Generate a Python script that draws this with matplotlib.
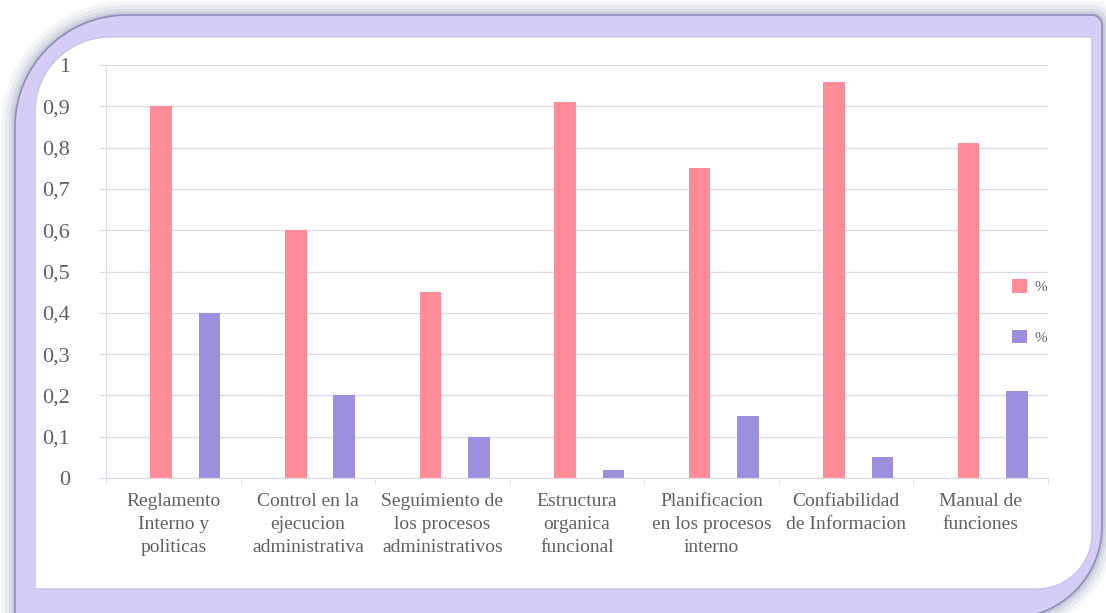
import matplotlib
matplotlib.use("Agg")
import matplotlib.pyplot as plt
import numpy as np
from matplotlib.path import Path
from matplotlib.patches import PathPatch, Patch

# Data
categories = [
    "Reglamento\nInterno y\npoliticas",
    "Control en la\nejecucion\nadministrativa",
    "Seguimiento de\nlos procesos\nadministrativos",
    "Estructura\norganica\nfuncional",
    "Planificacion\nen los procesos\ninterno",
    "Confiabilidad\nde Informacion",
    "Manual de\nfunciones",
]
serie_a = [0.90, 0.60, 0.45, 0.91, 0.75, 0.96, 0.81]
serie_b = [0.40, 0.20, 0.10, 0.02, 0.15, 0.05, 0.21]
series_labels = ["%", "%"]
y_ticks = [0, 0.1, 0.2, 0.3, 0.4, 0.5, 0.6, 0.7, 0.8, 0.9, 1]
y_ticklabels = ["0", "0,1", "0,2", "0,3", "0,4", "0,5", "0,6", "0,7", "0,8", "0,9", "1"]

PINK = "#ff8c98"
PURPLE = "#9c90de"
LAVENDER = "#d6cdf6"
TEXT = "#606060"
GRID = "#dcdbe8"

W, H = 1106, 613
fig = plt.figure(figsize=(W / 100, H / 100), dpi=100)
fig.patch.set_facecolor("white")


def rounded_rect(x0, y0, x1, y1, r_tl, r_tr, r_br, r_bl):
    """Closed path of a rectangle (y grows downward) with per-corner radii."""
    k = 0.5523
    verts, codes = [], []

    def move(p):
        verts.append(p); codes.append(Path.MOVETO)

    def line(p):
        verts.append(p); codes.append(Path.LINETO)

    def arc(p_start, corner, p_end):
        c1 = (p_start[0] + k * (corner[0] - p_start[0]), p_start[1] + k * (corner[1] - p_start[1]))
        c2 = (p_end[0] + k * (corner[0] - p_end[0]), p_end[1] + k * (corner[1] - p_end[1]))
        verts.extend([c1, c2, p_end]); codes.extend([Path.CURVE4] * 3)

    move((x0 + r_tl, y0))
    line((x1 - r_tr, y0))
    if r_tr:
        arc((x1 - r_tr, y0), (x1, y0), (x1, y0 + r_tr))
    line((x1, y1 - r_br))
    if r_br:
        arc((x1, y1 - r_br), (x1, y1), (x1 - r_br, y1))
    line((x0 + r_bl, y1))
    if r_bl:
        arc((x0 + r_bl, y1), (x0, y1), (x0, y1 - r_bl))
    line((x0, y0 + r_tl))
    if r_tl:
        arc((x0, y0 + r_tl), (x0, y0), (x0 + r_tl, y0))
    verts.append((x0 + r_tl, y0)); codes.append(Path.CLOSEPOLY)
    return Path(verts, codes)


# Decorative frame drawn in pixel coordinates
bg = fig.add_axes([0, 0, 1, 1], zorder=0)
bg.set_xlim(0, W)
bg.set_ylim(H, 0)
bg.axis("off")

# soft shadow around the frame
for grow, alpha in [(14, 0.10), (10, 0.14), (6, 0.20), (3, 0.28)]:
    bg.add_patch(PathPatch(
        rounded_rect(15 - grow, 15 - grow, 1102 + grow, 618 + grow,
                     112 + grow, 10 + grow, 92 + grow, 0),
        facecolor="#9aa3bd", edgecolor="none", alpha=alpha))
bg.add_patch(PathPatch(rounded_rect(15, 15, 1102, 618, 112, 10, 92, 0),
                       facecolor=LAVENDER, edgecolor="#8f8cb8", linewidth=1.2))
bg.add_patch(PathPatch(rounded_rect(35, 37, 1092, 589, 75, 0, 55, 0),
                       facecolor="white", edgecolor="#c9c2ea", linewidth=1.0))

# Chart
ax = fig.add_axes([106 / W, 1 - 478 / H, (1048 - 106) / W, (478 - 65) / H], zorder=1)
ax.set_facecolor("none")

x = np.arange(len(categories))
bar_w = 0.16
ax.bar(x - 0.09, serie_a, width=bar_w, color=PINK, label=series_labels[0], zorder=2)
ax.bar(x + 0.27, serie_b, width=bar_w, color=PURPLE, label=series_labels[1], zorder=2)

ax.set_xlim(-0.5, len(categories) - 0.5)
ax.set_ylim(0, 1)
ax.set_yticks(y_ticks)
ax.set_yticklabels(y_ticklabels, family="Liberation Serif", fontsize=16, color=TEXT)
ax.yaxis.grid(True, color=GRID, linewidth=1.0, zorder=0)
ax.set_axisbelow(True)

ax.set_xticks(x)
ax.set_xticklabels(categories, family="Liberation Serif", fontsize=14, color=TEXT,
                   linespacing=1.45)
ax.set_xticks(np.arange(len(categories) + 1) - 0.5, minor=True)
ax.tick_params(axis="x", which="major", length=0, pad=11)
ax.tick_params(axis="x", which="minor", length=5, color=GRID, direction="out")
ax.tick_params(axis="y", length=5, color=GRID, pad=21)

for side in ["top", "right"]:
    ax.spines[side].set_visible(False)
ax.spines["left"].set_color(GRID)
ax.spines["bottom"].set_color(GRID)

handles = [Patch(facecolor=PINK, label=series_labels[0]),
           Patch(facecolor=PURPLE, label=series_labels[1])]
leg = ax.legend(handles=handles, loc="center left", bbox_to_anchor=(998 / W, 1 - 312 / H),
                bbox_transform=fig.transFigure, frameon=False, fontsize=11,
                handlelength=1.0, handleheight=1.0, handletextpad=0.5, labelspacing=2.3)
for t in leg.get_texts():
    t.set_color(TEXT)
    t.set_family("Liberation Serif")

fig.savefig("out.png", dpi=100)
